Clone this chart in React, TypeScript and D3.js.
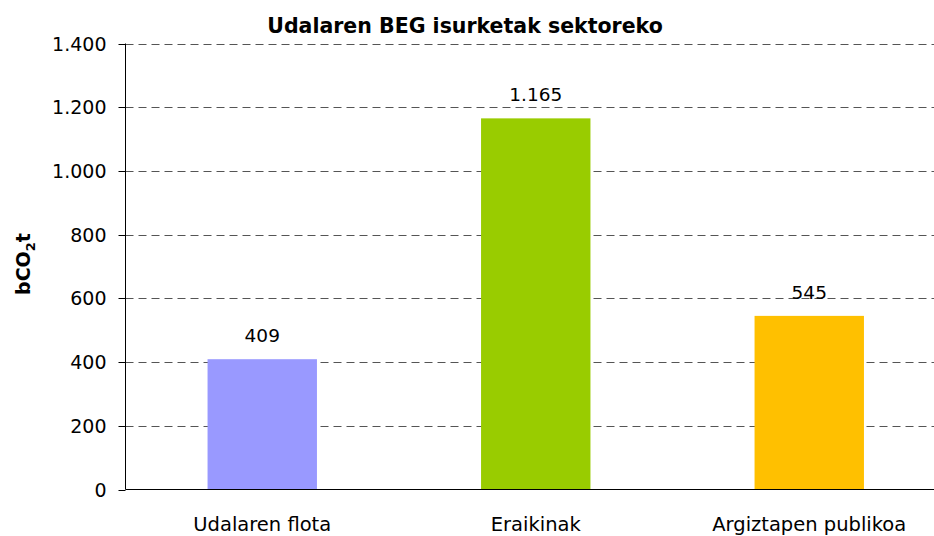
import React from "react";
import * as d3 from "d3";

const categories = ["Udalaren flota", "Eraikinak", "Argiztapen publikoa"];
const values = [409, 1165, 545];
const colors = ["#9999FF", "#99CC00", "#FFC000"];
const yTicks = [0, 200, 400, 600, 800, 1000, 1200, 1400];
const title = "Udalaren BEG isurketak sektoreko";

const W = 934, H = 536;
const left = 125.5, right = 946, top = 43.5, bottom = 489.5;
const font = "DejaVu Sans, Verdana, sans-serif";

const fmt = (v: number) => d3.format(",")(v).replace(/,/g, ".");

export default function App() {
  const x = d3.scaleBand<string>().domain(categories).range([left, right]).paddingInner(0.6).paddingOuter(0.3);
  const y = d3.scaleLinear().domain([0, 1400]).range([bottom, top]);
  return (
    <svg width={W} height={H} style={{ position: "absolute", left: 0, top: 0, background: "#fff" }}>
      <rect x={0} y={0} width={W} height={H} fill="#fff" />
      <text x={465} y={33} textAnchor="middle" fontFamily={font} fontWeight="bold" fontSize={20.5} fill="#000">{title}</text>
      {yTicks.map((t) => (
        <g key={t}>
          {t > 0 && <line x1={left} x2={W} y1={Math.round(y(t)) + 0.5} y2={Math.round(y(t)) + 0.5} stroke="#555" strokeWidth={1} strokeDasharray="8,5" />}
          <line x1={left - 7} x2={left} y1={Math.round(y(t)) + 0.5} y2={Math.round(y(t)) + 0.5} stroke="#000" />
          <text x={left - 19} y={y(t) + 7} textAnchor="end" fontFamily={font} fontSize={19} fill="#000">{fmt(t)}</text>
        </g>
      ))}
      {categories.map((c, i) => (
        <g key={c}>
          <rect x={x(c)!} y={y(values[i])} width={x.bandwidth()} height={bottom - y(values[i])} fill={colors[i]} />
          <text x={x(c)! + x.bandwidth() / 2} y={y(values[i]) - 17} textAnchor="middle" fontFamily={font} fontSize={18.5} fill="#000">{fmt(values[i])}</text>
          <text x={x(c)! + x.bandwidth() / 2} y={531} textAnchor="middle" fontFamily={font} fontSize={19.5} fill="#000">{c}</text>
        </g>
      ))}
      <line x1={left} x2={left} y1={top} y2={bottom} stroke="#000" />
      <line x1={left} x2={W} y1={bottom} y2={bottom} stroke="#000" />
      <text transform={`translate(30,264) rotate(-90)`} textAnchor="middle" fontFamily={font} fontWeight="bold" fontSize={19} fill="#000">
        bCO<tspan fontSize={13} dy={5}>2</tspan><tspan dy={-5}>t</tspan>
      </text>
    </svg>
  );
}
